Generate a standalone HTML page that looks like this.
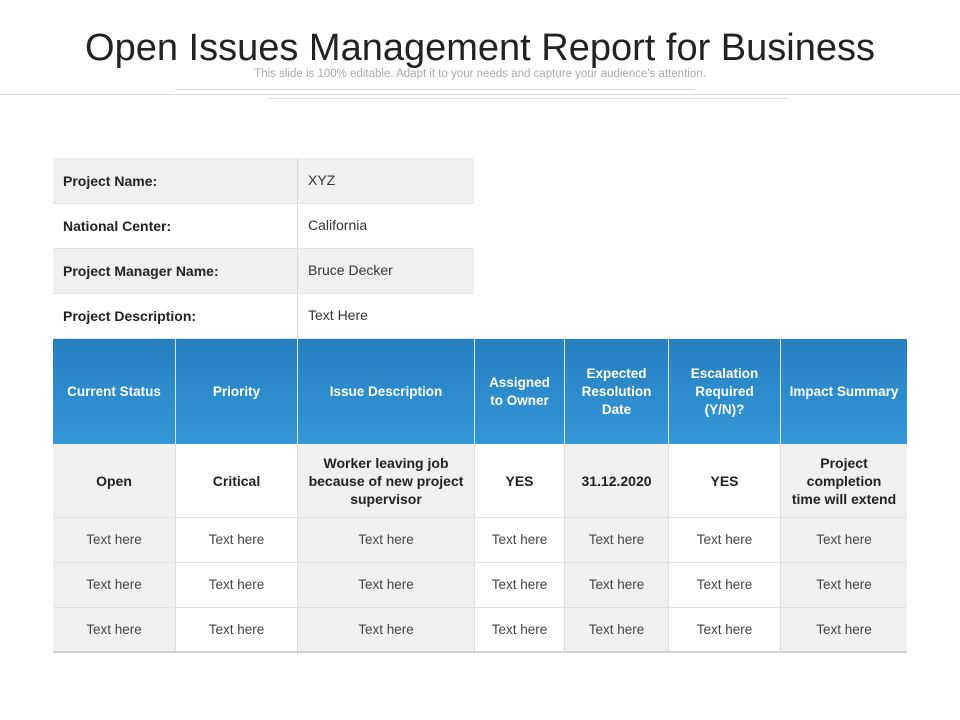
<!DOCTYPE html>
<html><head><meta charset="utf-8">
<style>
body{margin:0;width:960px;height:720px;background:#fff;position:relative;overflow:hidden;font-family:"Liberation Sans Narrow","Liberation Sans",sans-serif;}
.a{position:absolute;box-sizing:border-box;}
.c{display:flex;align-items:center;justify-content:center;text-align:center;}
.g{background:#f0f0f0;}
.w{background:#fff;}
.b{font-weight:bold;color:#222;}
</style></head><body>
<div class="a" style="left:0;top:26px;width:960px;text-align:center;font-size:38px;color:#222;line-height:44px;">Open Issues Management Report for Business</div>
<div class="a" style="left:0;top:68px;width:960px;text-align:center;font-size:11.5px;color:#aaa;">This slide is 100% editable. Adapt it to your needs and capture your audience's attention.</div>
<div class="a" style="left:175px;top:89px;width:520px;height:1px;background:#ddd;"></div>
<div class="a" style="left:0;top:94px;width:960px;height:1px;background:#ddd;"></div>
<div class="a" style="left:268px;top:98px;width:520px;height:1px;background:#ddd;"></div>

<div id="info"></div>
<div id="main"></div>

<script>
const infoLabels=["Project Name:","National Center:","Project Manager Name:","Project Description:"];
const infoValues=["XYZ","California","Bruce Decker","Text Here"];
const headers=["Current Status","Priority","Issue Description","Assigned to Owner","Expected Resolution Date","Escalation Required (Y/N)?","Impact Summary"];
const firstRow=["Open","Critical","Worker leaving job because of new project supervisor","YES","31.12.2020","YES","Project completion time will extend"];
const textRows=[["Text here","Text here","Text here","Text here","Text here","Text here","Text here"],["Text here","Text here","Text here","Text here","Text here","Text here","Text here"],["Text here","Text here","Text here","Text here","Text here","Text here","Text here"]];

const colX=[53,175,297,474,564,668,780,907];
function mk(parent,cls,l,t,w,h,html){const d=document.createElement('div');d.className='a '+cls;d.style.left=l+'px';d.style.top=t+'px';d.style.width=w+'px';d.style.height=h+'px';d.innerHTML=html||'';parent.appendChild(d);return d;}
const info=document.getElementById('info');
const rowY=[158,204,249,294,339];
infoLabels.forEach((lab,i)=>{
  const bg=i%2==0?'g':'w';
  const y=rowY[i],h=rowY[i+1]-y;
  const l=mk(info,bg+' b',53,y,244,h,lab);
  l.style.padding='0 10px';l.style.display='flex';l.style.alignItems='center';l.style.fontSize='14px';l.style.borderBottom='1px solid #e2e2e2';
  
  
  const v=mk(info,bg,297,y,177,h,infoValues[i]);
  v.style.padding='0 10px';v.style.display='flex';v.style.alignItems='center';v.style.fontSize='14px';v.style.color='#333';v.style.paddingBottom='2px';v.style.borderLeft='1px solid #d8d8d8';v.style.borderBottom='1px solid #e2e2e2';
  
  
});
const main=document.getElementById('main');
headers.forEach((h,i)=>{
  const d=mk(main,'c',colX[i],339,colX[i+1]-colX[i],105,h);
  d.style.background='linear-gradient(#2580c0,#3497d6)';d.style.color='#fff';d.style.fontWeight='bold';d.style.fontSize='13.5px';d.style.lineHeight='18px';d.style.padding='0 8px';
  if(i>0)d.style.borderLeft='1px solid #e0e0e0';
  
  
});
const bodyRows=[firstRow].concat(textRows);
const bodyY=[444,518,563,608,653];
bodyRows.forEach((r,ri)=>{
  r.forEach((t,i)=>{
    const d=mk(main,'c '+(i%2==0?'g':'w')+(ri==0?' b':''),colX[i],bodyY[ri],colX[i+1]-colX[i],bodyY[ri+1]-bodyY[ri],t);
    d.style.fontSize=ri==0?'14px':'13.5px';d.style.lineHeight='18px';d.style.padding='0 10px';
    if(ri>0)d.style.color='#444';
    d.style.borderBottom=ri==3?'2px solid #d0d0d0':'1px solid #e2e2e2';
    if(i>0)d.style.borderLeft='1px solid #dcdcdc';
    
    
  });
});
</script>
</body></html>
